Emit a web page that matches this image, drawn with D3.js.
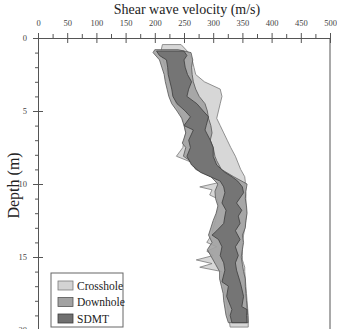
<!DOCTYPE html>
<html>
<head>
<meta charset="utf-8">
<script src="https://cdn.jsdelivr.net/npm/d3@7/dist/d3.min.js"></script>
<style>
  body { margin: 0; background: #fff; }
  svg { display: block; }
</style>
</head>
<body>
<div id="chart"></div>
<script>
// data (depth in m, velocity in m/s)
var crossholeDepth = [0.45, 1.0, 1.5, 2.0, 2.5, 3.0, 3.5, 4.0, 4.5, 5.0, 5.5, 6.0, 6.5, 7.0, 7.5, 8.1, 8.5, 9.0, 9.5, 9.85,
    10.2, 10.4, 10.75, 11.0, 11.5, 12.0, 12.5, 13.0, 13.5, 14.0, 14.3, 14.6, 14.9, 15.2, 15.45, 15.7, 16.0, 16.5, 17.0, 17.5,
    18.0, 18.5, 19.0, 19.5, 19.8];
var crossholeMin = [213, 210, 214, 218, 222, 226, 230, 233, 236, 242, 247, 251, 253, 250, 248, 237, 262, 276, 300, 315,
    277, 298, 294, 307, 310, 306, 304, 300, 297, 289, 306, 289, 300, 271, 298, 277, 315, 314, 318, 320,
    322, 325, 326, 328, 329];
var crossholeMax = [245, 258, 264, 267, 270, 285, 312, 315, 312, 309, 306, 312, 318, 324, 330, 338, 342, 347, 354, 355,
    354, 355, 356, 356, 356, 357, 356, 354, 352, 350, 350, 350, 350, 350, 352, 354, 354, 355, 356, 357,
    358, 359, 360, 360, 360];

var downholeDepth = [0.8, 1.0, 1.5, 2.0, 2.5, 3.0, 3.5, 4.0, 4.5, 5.0, 5.5, 6.0, 6.5, 7.0, 7.2, 7.5, 8.1, 8.4, 9.0, 9.5,
    10.0, 10.5, 11.0, 11.5, 12.0, 12.5, 13.0, 13.5, 14.0, 14.5, 15.0, 15.5, 16.0, 16.5, 17.0, 17.5, 18.0, 18.5, 19.0, 19.5];
var downholeMin = [200, 197, 208, 212, 216, 218, 221, 224, 229, 238, 246, 250, 253, 249, 247, 253, 249, 260, 270, 296,
    308, 303, 304, 308, 305, 300, 296, 292, 298, 290, 297, 304, 311, 311, 314, 317, 318, 320, 322, 326];
var downholeMax = [240, 262, 265, 263, 264, 266, 270, 276, 286, 290, 292, 296, 298, 295, 297, 300, 303, 306, 314, 335,
    358, 356, 355, 357, 358, 356, 355, 350, 352, 350, 348, 350, 352, 355, 355, 356, 357, 358, 359, 360];

var sdmtDepth = [0.9, 1.2, 1.5, 2.0, 2.5, 3.0, 3.5, 4.0, 4.5, 5.0, 5.4, 6.0, 6.3, 7.0, 7.5, 8.1, 8.7, 9.2, 9.5, 9.8,
    10.2, 10.6, 11.3, 11.8, 12.2, 12.7, 13.2, 13.5, 13.8, 14.3, 14.9, 15.4, 15.9, 16.7, 17.0, 17.7, 18.4, 18.6, 19.0, 19.5];
var sdmtMin = [203, 208, 220, 222, 223, 226, 229, 231, 238, 252, 261, 250, 266, 258, 261, 255, 263, 278, 295, 312,
    318, 320, 315, 322, 320, 318, 306, 298, 309, 315, 312, 318, 320, 315, 326, 323, 330, 332, 329, 332];
var sdmtMax = [250, 255, 250, 252, 256, 263, 258, 255, 272, 283, 292, 288, 286, 295, 300, 300, 306, 320, 332, 342,
    350, 352, 340, 349, 343, 346, 338, 342, 346, 338, 343, 338, 340, 346, 348, 352, 349, 358, 357, 358];

var seriesNames = ["Crosshole", "Downhole", "SDMT"];
var xMajorTicks = [0, 50, 100, 150, 200, 250, 300, 350, 400, 450, 500];
var yMajorTicks = [0, 5, 10, 15, 20];

var width = 337, height = 329;
var margin = { top: 38, left: 38, right: 7, bottom: -1 };
var fills = ["#d3d3d3", "#a2a2a2", "#707070"];
var strokes = ["#7a7a7a", "#555", "#3c3c3c"];

var svg = d3.select("#chart").append("svg")
    .attr("width", width)
    .attr("height", height);

var x = d3.scaleLinear().domain([0, 500]).range([margin.left, width - margin.right]);
var y = d3.scaleLinear().domain([0, 20]).range([margin.top, height - margin.bottom]);

// bands: min curve down, max curve back up
var series = [
    { depth: crossholeDepth, lo: crossholeMin, hi: crossholeMax },
    { depth: downholeDepth, lo: downholeMin, hi: downholeMax },
    { depth: sdmtDepth, lo: sdmtMin, hi: sdmtMax }
];
var area = d3.area()
    .y(function (d) { return y(d.d); })
    .x0(function (d) { return x(d.lo); })
    .x1(function (d) { return x(d.hi); })
    .curve(d3.curveLinear);

series.forEach(function (s, i) {
    var rows = s.depth.map(function (d, k) { return { d: d, lo: s.lo[k], hi: s.hi[k] }; });
    svg.append("path")
        .attr("d", area(rows) + "Z")
        .attr("fill", fills[i])
        .attr("fill-opacity", 0.9)
        .attr("stroke", strokes[i])
        .attr("stroke-width", 0.8)
        .attr("stroke-linejoin", "miter");
});

// right border
svg.append("line")
    .attr("x1", x(500)).attr("x2", x(500))
    .attr("y1", y(0)).attr("y2", y(20))
    .attr("stroke", "#555");

// top axis
var xMinor = d3.range(25, 500, 50);
svg.append("g")
    .attr("transform", "translate(0," + y(0) + ")")
    .call(d3.axisTop(x).tickValues(xMinor).tickSize(4).tickFormat(""))
    .call(function (g) { g.select(".domain").remove(); });
var xAxisG = svg.append("g")
    .attr("transform", "translate(0," + y(0) + ")")
    .call(d3.axisTop(x).tickValues(xMajorTicks).tickSizeInner(5).tickSizeOuter(0).tickPadding(7));
xAxisG.selectAll(".tick").append("line").attr("y2", 5).attr("stroke", "currentColor");

// left axis
var yMinor = d3.range(1, 20).filter(function (v) { return v % 5 !== 0; });
svg.append("g")
    .attr("transform", "translate(" + x(0) + ",0)")
    .call(d3.axisLeft(y).tickValues(yMinor).tickSize(3).tickFormat(""))
    .call(function (g) { g.select(".domain").remove(); });
var yAxisG = svg.append("g")
    .attr("transform", "translate(" + x(0) + ",0)")
    .call(d3.axisLeft(y).tickValues(yMajorTicks).tickSizeInner(5).tickSizeOuter(0).tickPadding(6));
yAxisG.selectAll(".tick").append("line").attr("x2", 5).attr("stroke", "currentColor");

svg.selectAll(".tick text").attr("font-size", 8.5).attr("fill", "#444");
svg.selectAll(".tick line, .domain").attr("stroke", "#555");

// titles (the scanned figure is a bit stretched vertically)
svg.append("text")
    .attr("transform", "translate(187,14) scale(1,1.1)")
    .attr("text-anchor", "middle")
    .attr("font-size", 14)
    .attr("fill", "#222")
    .text("Shear wave velocity (m/s)");
svg.append("text")
    .attr("transform", "translate(19," + y(10.1) + ") rotate(-90)")
    .attr("text-anchor", "middle")
    .attr("font-size", 16)
    .attr("fill", "#222")
    .text("Depth (m)");

// legend
var legend = svg.append("g").attr("transform", "translate(51,273)");
legend.append("rect")
    .attr("width", 72).attr("height", 54)
    .attr("fill", "#fff").attr("stroke", "#666").attr("stroke-width", 1);
seriesNames.forEach(function (name, i) {
    var row = legend.append("g").attr("transform", "translate(7," + (8 + i * 16.5) + ")");
    row.append("rect")
        .attr("width", 15).attr("height", 9)
        .attr("fill", fills[i]).attr("stroke", strokes[i]).attr("stroke-width", 0.8);
    row.append("text")
        .attr("x", 19).attr("y", 8.5)
        .attr("font-size", 11.5)
        .attr("fill", "#222")
        .text(name);
});

svg.selectAll("g").attr("font-family", null);
svg.selectAll("text").attr("font-family", "Liberation Serif");
</script>
</body>
</html>
